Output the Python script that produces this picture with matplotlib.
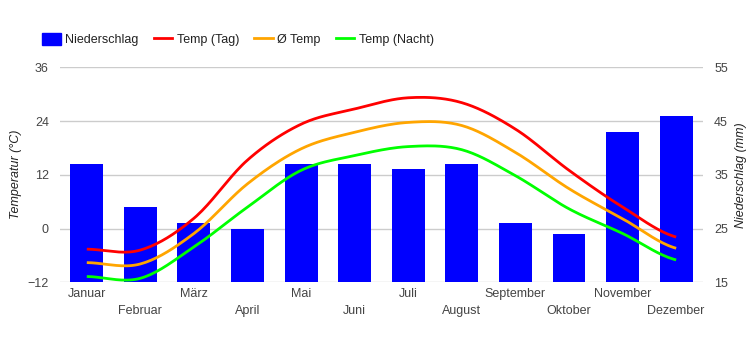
import numpy as np
import matplotlib.pyplot as plt
from matplotlib.patches import Patch
from matplotlib.lines import Line2D

plt.rcParams['font.family'] = ['Liberation Sans', 'DejaVu Sans']

months = ['Januar', 'Februar', 'März', 'April', 'Mai', 'Juni',
          'Juli', 'August', 'September', 'Oktober', 'November', 'Dezember']
niederschlag = [37, 29, 26, 25, 37, 37, 36, 37, 26, 24, 43, 46]
temp_tag = [-4.6, -4.8, 2.3, 15.3, 23.3, 26.7, 29.2, 28.1, 22.2, 13.0, 4.8, -1.9]
temp_mittel = [-7.6, -7.9, -1.1, 10.0, 17.8, 21.5, 23.7, 23.0, 17.0, 8.9, 2.2, -4.4]
temp_nacht = [-10.7, -11.1, -4.1, 4.8, 13.0, 16.3, 18.3, 17.6, 11.8, 4.4, -1.1, -7.0]

text_col = '#444444'


# smooth line through the points (cardinal spline), just for drawing
def smooth(y, k=0.5, steps=20):
    y = np.asarray(y, dtype=float)
    n = len(y)
    p = np.concatenate([[y[0]], y, [y[-1]]])
    m = k * (p[2:] - p[:-2])  # tangents
    xs, ys = [], []
    t = np.linspace(0, 1, steps, endpoint=False)
    h00 = 2 * t**3 - 3 * t**2 + 1
    h10 = t**3 - 2 * t**2 + t
    h01 = -2 * t**3 + 3 * t**2
    h11 = t**3 - t**2
    for i in range(n - 1):
        yy = h00 * y[i] + h10 * m[i] + h01 * y[i + 1] + h11 * m[i + 1]
        xs.extend(i + t)
        ys.extend(yy)
    xs.append(n - 1)
    ys.append(y[-1])
    return np.array(xs), np.array(ys)


fig = plt.figure(figsize=(7.5, 3.5), dpi=100)
ax = fig.add_axes([0.08, 0.1934, 0.8573, 0.6143])
ax2 = ax.twinx()
ax.set_zorder(ax2.get_zorder() + 1)
ax.patch.set_visible(False)

x = np.arange(len(months))
ax2.bar(x, niederschlag, width=0.615, bottom=0, color='#0000ff', zorder=2)
ax2.set_ylim(15, 55)
ax2.set_yticks([15, 25, 35, 45, 55])
ax2.grid(axis='y', color='#cccccc', linewidth=1, zorder=0)
ax2.set_axisbelow(True)

for vals, col in [(temp_tag, '#ff0000'), (temp_mittel, '#ffa500'), (temp_nacht, '#00ff00')]:
    sx, sy = smooth(vals)
    ax.plot(sx, sy, color=col, linewidth=2, solid_capstyle='butt')

ax.set_ylim(-12, 36)
ax.set_yticks([-12, 0, 12, 24, 36])
ax.set_xlim(-0.5, 11.5)
ax.set_xticks(x)
ax.set_xticklabels(months)

for a in (ax, ax2):
    for s in a.spines.values():
        s.set_visible(False)
    a.tick_params(length=0, labelsize=9, colors=text_col)
ax.tick_params(axis='y', pad=8)
ax2.tick_params(axis='y', pad=8)
# two rows of month labels
for i, tick in enumerate(ax.xaxis.get_major_ticks()):
    tick.set_pad(4 if i % 2 == 0 else 16.5)

ax.set_ylabel('Temperatur (°C)', fontsize=9, style='italic', color='#222222', labelpad=4)
ax2.set_ylabel('Niederschlag (mm)', fontsize=9, style='italic', color='#222222', labelpad=5)

handles = [Patch(color='#0000ff'),
           Line2D([], [], color='#ff0000', linewidth=2),
           Line2D([], [], color='#ffa500', linewidth=2),
           Line2D([], [], color='#00ff00', linewidth=2)]
labels = ['Niederschlag', 'Temp (Tag)', 'Ø Temp', 'Temp (Nacht)']
leg = fig.legend(handles, labels, loc='center left', bbox_to_anchor=(0.056, 0.888), ncol=4,
                 frameon=False, fontsize=9, handlelength=1.5, handleheight=1.1,
                 handletextpad=0.35, columnspacing=1.2, labelcolor='#222222',
                 borderpad=0, borderaxespad=0)

fig.savefig('out.png', dpi=100)
